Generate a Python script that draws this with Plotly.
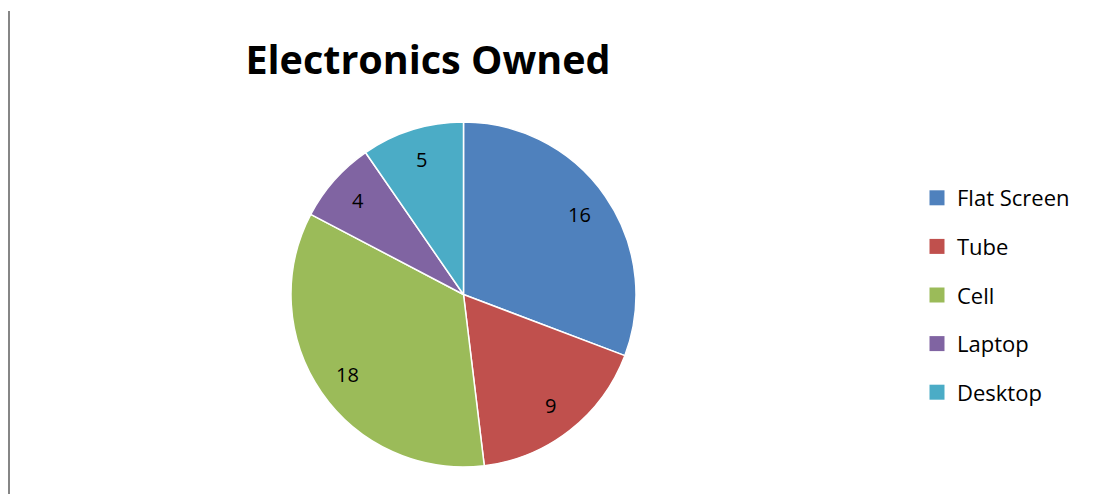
import math
import plotly.graph_objects as go

categories = ["Flat Screen", "Tube", "Cell", "Laptop", "Desktop"]
values = [16, 9, 18, 4, 5]
colors = ["#4F81BD", "#C0504D", "#9BBB59", "#8064A2", "#4BACC6"]
title_text = "Electronics Owned"

W, H = 1093, 494
FONT = "Open Sans"
# pie geometry (pixels)
CX, CY, R = 463.5, 294.5, 172.5
LABEL_FRAC = 0.82

fig = go.Figure()
fig.add_trace(go.Pie(
    labels=categories, values=values, sort=False, direction="clockwise", rotation=0,
    marker=dict(colors=colors, line=dict(color="white", width=1.5)),
    textinfo="none",
    domain=dict(x=[(CX - R) / W, (CX + R) / W], y=[1 - (CY + R) / H, 1 - (CY - R) / H]),
    showlegend=False, hoverinfo="label+value",
))
for i, (c, col) in enumerate(zip(categories, colors)):
    fig.add_trace(go.Scatter(
        x=[None], y=[None], mode="markers", name=c, legendgroup=str(i),
        marker=dict(symbol="square", size=15, color=col),
    ))

# data labels placed from the cumulative slice angles
total = sum(values)
annotations = []
cum = 0
for v in values:
    mid = (cum + v / 2) / total * 2 * math.pi
    cum += v
    px = CX + LABEL_FRAC * R * math.sin(mid)
    py = CY - LABEL_FRAC * R * math.cos(mid)
    annotations.append(dict(x=px / W, y=1 - py / H, xref="paper", yref="paper",
                            text=str(v), showarrow=False,
                            font=dict(family=FONT, size=20, color="black"),
                            xanchor="center", yanchor="middle"))

fig.update_layout(
    width=W, height=H, margin=dict(l=0, r=0, t=0, b=0),
    paper_bgcolor="white", plot_bgcolor="white",
    xaxis=dict(visible=False), yaxis=dict(visible=False),
    title=dict(text=f"<b>{title_text}</b>", x=428 / W, xanchor="center",
               y=1 - 60 / H, yanchor="middle",
               font=dict(family=FONT, size=39.5, color="black")),
    legend=dict(x=917 / W, xanchor="left", y=1 - 177 / H, yanchor="top",
                font=dict(family=FONT, size=22, color="black"),
                tracegroupgap=17, itemclick=False, itemwidth=30,
                bgcolor="rgba(0,0,0,0)"),
    annotations=annotations,
    shapes=[dict(type="line", xref="paper", yref="paper", x0=9 / W, x1=9 / W,
                 y0=0, y1=1 - 11 / H, line=dict(color="#868686", width=2))],
)
fig.write_html("out.html")
